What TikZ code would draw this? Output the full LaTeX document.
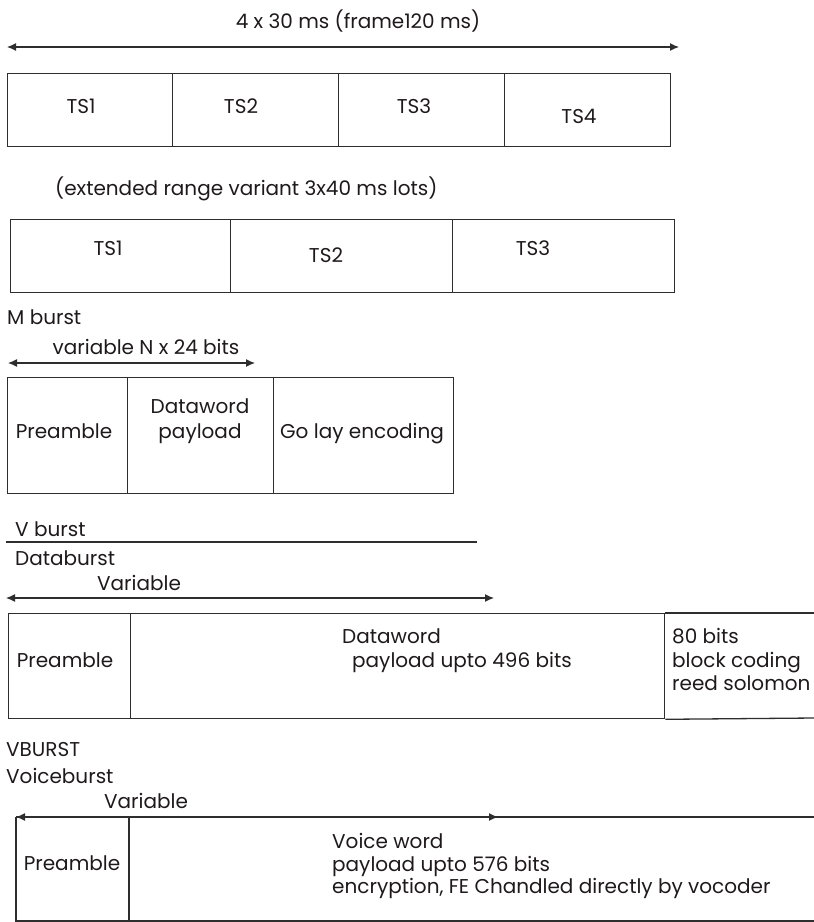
\documentclass[tikz,border=0pt]{standalone}
\usepackage{fontspec}
\setmainfont{Poppins}
\usetikzlibrary{arrows.meta}
\definecolor{linegray}{HTML}{2E2E2E}
\definecolor{textgray}{HTML}{1E1A1B}
\begin{document}
\begin{tikzpicture}[x=1pt, y=-1pt,
    cell/.style={draw=linegray, line width=1.3pt, anchor=north west, inner sep=0pt},
    frame line/.style={draw=linegray, line width=1.3pt},
    span arrow/.style={draw=linegray, line width=1.2pt,
        {Latex[length=9pt,width=8pt]}-{Latex[length=9pt,width=8pt]}},
    label node/.style={font=\fontsize{20}{24}\selectfont, text=textgray, inner sep=0pt, anchor=base},
    left label/.style={label node, anchor=base west}
    ]
    \useasboundingbox (0,0) rectangle (814,922);

    % frame of four slots
    \node[label node] (title) at (358,28) {4 x 30 ms (frame120 ms)};
    \coordinate (a1l) at (7,47);
    \coordinate (a1r) at (679,47);
    \draw[span arrow] (a1l) -- (a1r);

    \node[cell, minimum width=165pt, minimum height=73pt] (f1) at (7,73) {};
    \node[cell, minimum width=166pt, minimum height=73pt] (f2) at (172,73) {};
    \node[cell, minimum width=166pt, minimum height=73pt] (f3) at (338,73) {};
    \node[cell, minimum width=166pt, minimum height=73pt] (f4) at (504,73) {};
    \node[label node] (f1l) at (81,113) {TS1};
    \node[label node] (f2l) at (241,113) {TS2};
    \node[label node] (f3l) at (414,113) {TS3};
    \node[label node] (f4l) at (579,123) {TS4};

    % extended range variant
    \node[left label] (ext) at (55,195) {(extended range variant 3x40 ms lots)};
    \node[cell, minimum width=220pt, minimum height=73pt] (e1) at (10,219) {};
    \node[cell, minimum width=222pt, minimum height=73pt] (e2) at (230,219) {};
    \node[cell, minimum width=222pt, minimum height=73pt] (e3) at (452,219) {};
    \node[label node] (e1l) at (108,255) {TS1};
    \node[label node] (e2l) at (326,262) {TS2};
    \node[label node] (e3l) at (533,255) {TS3};

    % M burst
    \node[left label] (mb) at (7,324) {M burst};
    \node[label node] (mvar) at (146,354) {variable N x 24 bits};
    \coordinate (a2l) at (8,363);
    \coordinate (a2r) at (255,363);
    \draw[span arrow] (a2l) -- (a2r);

    \node[cell, minimum width=120pt, minimum height=116pt] (m1) at (7,377) {};
    \node[cell, minimum width=146pt, minimum height=116pt] (m2) at (127,377) {};
    \node[cell, minimum width=180pt, minimum height=116pt] (m3) at (273,377) {};
    \node[label node] (m1l) at (64,438) {Preamble};
    \node[label node] (m2a) at (200,413) {Dataword};
    \node[label node] (m2b) at (200,438) {payload};
    \node[label node] (m3l) at (362,438) {Go lay encoding};

    % V burst / data burst
    \node[left label] (vb) at (15,536) {V burst};
    \coordinate (vbl) at (6,542);
    \coordinate (vbr) at (477,542);
    \draw[frame line] (vbl) -- (vbr);
    \node[left label] (db) at (15,565) {Databurst};
    \node[left label] (dvar) at (97,590) {Variable};
    \coordinate (a3l) at (6,598);
    \coordinate (a3r) at (494,598);
    \draw[span arrow] (a3l) -- (a3r);

    \node[cell, minimum width=122pt, minimum height=105pt] (d1) at (8,613) {};
    \node[cell, minimum width=534pt, minimum height=105pt] (d2) at (130,613) {};
    \coordinate (d3t) at (814,613);
    \coordinate (d3b) at (814,718);
    \draw[frame line] (d2.north east) -- (d3t);
    \draw[frame line] (d2.south east) -- (d3b);
    \node[label node] (d1l) at (65,667) {Preamble};
    \node[left label] (d2a) at (342,643) {Dataword};
    \node[left label] (d2b) at (352,667) {payload upto 496 bits};
    \node[left label] (d3a) at (672,643) {80 bits};
    \node[left label] (d3b) at (672,667) {block coding};
    \node[left label] (d3c) at (672,690) {reed solomon};

    % voice burst
    \node[left label] (vbu) at (6,756) {VBURST};
    \node[left label] (vc) at (6,783) {Voiceburst};
    \node[left label] (vvar) at (104,808) {Variable};
    \coordinate (v1) at (16,817);
    \coordinate (v2) at (129,817);
    \coordinate (v3) at (814,817);
    \coordinate (v4) at (16,921);
    \coordinate (v5) at (129,921);
    \coordinate (v6) at (814,921);
    \coordinate (a4r) at (498,817);
    \draw[frame line] (v1) -- (v3);
    \draw[frame line] (v1) -- (v4) -- (v6);
    \draw[frame line] (v2) -- (v5);
    \draw[span arrow] (v1) -- (a4r);
    \node[label node] (v1l) at (72,870) {Preamble};
    \node[left label] (v2a) at (332,848) {Voice word};
    \node[left label] (v2b) at (332,871) {payload upto 576 bits};
    \node[left label] (v2c) at (332,893) {encryption, FE Chandled directly by vocoder};
\end{tikzpicture}
\end{document}
